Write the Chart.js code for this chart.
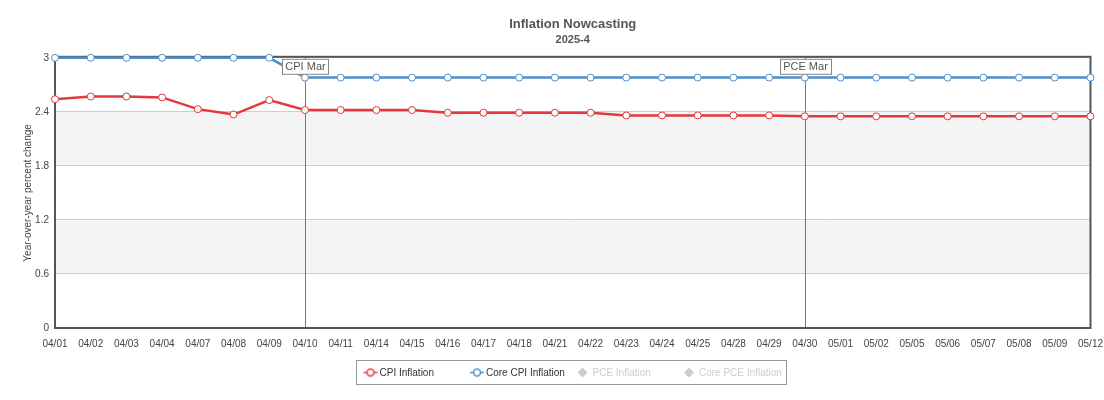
<!DOCTYPE html>
<html>
<head>
<meta charset="utf-8">
<title>Inflation Nowcasting</title>
<script src="https://cdn.jsdelivr.net/npm/chart.js@4"></script>
<style>
    html, body { margin: 0; padding: 0; background: #fff; }
    #wrap { width: 1104px; height: 400px; position: relative; }
</style>
</head>
<body>
<div id="wrap"><canvas id="nowcast"></canvas></div>
<script>
var dates = ['04/01', '04/02', '04/03', '04/04', '04/07', '04/08', '04/09', '04/10', '04/11', '04/14',
    '04/15', '04/16', '04/17', '04/18', '04/21', '04/22', '04/23', '04/24', '04/25', '04/28',
    '04/29', '04/30', '05/01', '05/02', '05/05', '05/06', '05/07', '05/08', '05/09', '05/12'];
var cpi = [2.54, 2.57, 2.57, 2.56, 2.43, 2.37, 2.53, 2.42, 2.42, 2.42,
    2.42, 2.39, 2.39, 2.39, 2.39, 2.39, 2.36, 2.36, 2.36, 2.36,
    2.36, 2.35, 2.35, 2.35, 2.35, 2.35, 2.35, 2.35, 2.35, 2.35];
var coreCpi = [3.0, 3.0, 3.0, 3.0, 3.0, 3.0, 3.0, 2.78, 2.78, 2.78,
    2.78, 2.78, 2.78, 2.78, 2.78, 2.78, 2.78, 2.78, 2.78, 2.78,
    2.78, 2.78, 2.78, 2.78, 2.78, 2.78, 2.78, 2.78, 2.78, 2.78];
var pce = [];
var corePce = [];
var yTicks = [0, 0.6, 1.2, 1.8, 2.4, 3];
var releaseDates = ['04/10', '04/30'];
var releaseLabels = ['CPI Mar', 'PCE Mar'];

var FONT = '"Liberation Sans", Arial, sans-serif';
Chart.defaults.font.family = FONT;

function lineIcon(color) {
    var c = document.createElement('canvas');
    c.width = 16; c.height = 10;
    var ctx = c.getContext('2d');
    ctx.strokeStyle = color;
    ctx.lineWidth = 1.5;
    ctx.beginPath(); ctx.moveTo(1, 5); ctx.lineTo(15, 5); ctx.stroke();
    ctx.fillStyle = '#fff';
    ctx.beginPath(); ctx.arc(8, 5, 3.5, 0, Math.PI * 2); ctx.fill(); ctx.stroke();
    return c;
}

// alternate grey bands between y ticks
var bandsPlugin = {
    id: 'bands',
    beforeDraw: function(chart) {
        var ctx = chart.ctx, area = chart.chartArea, y = chart.scales.y;
        ctx.save();
        ctx.fillStyle = '#f4f4f4';
        for (var i = 1; i < yTicks.length - 1; i += 2) {
            var top = y.getPixelForValue(yTicks[i + 1]);
            var bottom = y.getPixelForValue(yTicks[i]);
            ctx.fillRect(area.left, top, area.right - area.left, bottom - top);
        }
        ctx.restore();
    }
};

// plot frame + release marker lines under the series, labels over them
var frameAndMarkers = {
    id: 'frameAndMarkers',
    beforeDatasetsDraw: function(chart) {
        var ctx = chart.ctx, a = chart.chartArea, x = chart.scales.x;
        ctx.save();
        ctx.strokeStyle = '#777';
        ctx.lineWidth = 1;
        releaseDates.forEach(function(d) {
            var px = Math.round(x.getPixelForValue(dates.indexOf(d))) + 0.5;
            ctx.beginPath(); ctx.moveTo(px, a.top); ctx.lineTo(px, a.bottom); ctx.stroke();
        });
        ctx.strokeStyle = '#555';
        ctx.lineWidth = 2;
        ctx.strokeRect(a.left, a.top - 1, a.right - a.left, a.bottom - a.top + 1);
        ctx.restore();
    },
    afterDatasetsDraw: function(chart) {
        var ctx = chart.ctx, a = chart.chartArea, x = chart.scales.x;
        ctx.save();
        ctx.font = '11px ' + FONT;
        ctx.textBaseline = 'middle';
        ctx.textAlign = 'center';
        releaseDates.forEach(function(d, i) {
            var px = Math.round(x.getPixelForValue(dates.indexOf(d))) + 0.5;
            var w = ctx.measureText(releaseLabels[i]).width + 6;
            var top = a.top + 1.5;
            ctx.fillStyle = '#fff';
            ctx.fillRect(px - w / 2, top, w, 15);
            ctx.strokeStyle = '#888';
            ctx.lineWidth = 1;
            ctx.strokeRect(Math.round(px - w / 2) + 0.5, top, Math.round(w), 15);
            ctx.fillStyle = '#555';
            ctx.fillText(releaseLabels[i], px, top + 8);
        });
        ctx.restore();
    }
};

// boxed legend below the axis, fixed item width
var boxLegend = {
    id: 'boxLegend',
    afterDraw: function(chart) {
        var ctx = chart.ctx, a = chart.chartArea;
        var items = chart.data.datasets;
        var itemW = 106.5, boxW = 430, boxH = 24;
        var left = Math.floor((a.left + a.right) / 2 - boxW / 2) - 0.5;
        var top = 360.5;
        ctx.save();
        ctx.strokeStyle = '#999';
        ctx.lineWidth = 1;
        ctx.strokeRect(left, top, boxW, boxH);
        ctx.font = '10px ' + FONT;
        ctx.textBaseline = 'middle';
        ctx.textAlign = 'left';
        var cy = top + boxH / 2;
        items.forEach(function(ds, i) {
            var sx = left + 7 + i * itemW;
            var off = ds.data.length === 0;
            if (off) {
                ctx.fillStyle = '#ccc';
                ctx.beginPath();
                ctx.moveTo(sx + 6, cy - 5); ctx.lineTo(sx + 11, cy); ctx.lineTo(sx + 6, cy + 5); ctx.lineTo(sx + 1, cy);
                ctx.closePath(); ctx.fill();
            } else {
                ctx.drawImage(lineIcon(ds.borderColor), sx - 1, cy - 5);
            }
            ctx.fillStyle = off ? '#ccc' : '#333';
            ctx.fillText(ds.label, sx + 16, cy + 0.5);
        });
        ctx.restore();
    }
};

function series(label, data, color) {
    return {
        label: label,
        data: data,
        borderColor: color,
        backgroundColor: '#fff',
        borderWidth: 2.5,
        pointRadius: 3.5,
        pointBorderWidth: 1,
        pointBackgroundColor: '#fff',
        pointBorderColor: color,
        tension: 0,
        clip: false
    };
}

new Chart(document.getElementById('nowcast'), {
    type: 'line',
    data: {
        labels: dates,
        datasets: [
            series('CPI Inflation', cpi, '#e2393c'),
            series('Core CPI Inflation', coreCpi, '#4d8fcb'),
            series('PCE Inflation', pce, '#ccc'),
            series('Core PCE Inflation', corePce, '#ccc')
        ]
    },
    options: {
        responsive: true,
        maintainAspectRatio: false,
        animation: false,
        layout: { padding: { left: 0, right: 0, top: 0, bottom: 42 } },
        plugins: {
            legend: { display: false },
            tooltip: { enabled: false },
            title: {
                display: true,
                fullSize: false,
                text: 'Inflation Nowcasting',
                color: '#555',
                font: { size: 13, weight: 'bold' },
                padding: { top: 17, bottom: 0 }
            },
            subtitle: {
                display: true,
                fullSize: false,
                text: '2025-4',
                color: '#555',
                font: { size: 11, weight: 'bold' },
                padding: { top: 1, bottom: 11 }
            }
        },
        scales: {
            x: {
                offset: false,
                grid: { display: true, drawOnChartArea: false, drawTicks: true, tickLength: 9, tickColor: 'rgba(0,0,0,0)' },
                border: { display: false },
                ticks: { color: '#444', font: { size: 10 }, maxRotation: 0, autoSkip: false, padding: 1 },
                afterFit: function(s) { s.height = 30; }
            },
            y: {
                min: 0,
                max: 3,
                afterBuildTicks: function(s) { s.ticks = yTicks.map(function(v) { return { value: v }; }); },
                grid: { color: '#ccc', drawTicks: false },
                border: { display: false },
                ticks: { color: '#444', font: { size: 10 }, padding: 6, callback: function(v) { return String(v); } },
                title: {
                    display: true,
                    text: 'Year-over-year percent change',
                    color: '#444',
                    font: { size: 10 },
                    padding: { top: 22, bottom: 0 }
                },
                afterFit: function(s) { s.width = 55; }
            }
        }
    },
    plugins: [bandsPlugin, frameAndMarkers, boxLegend]
});
</script>
</body>
</html>
